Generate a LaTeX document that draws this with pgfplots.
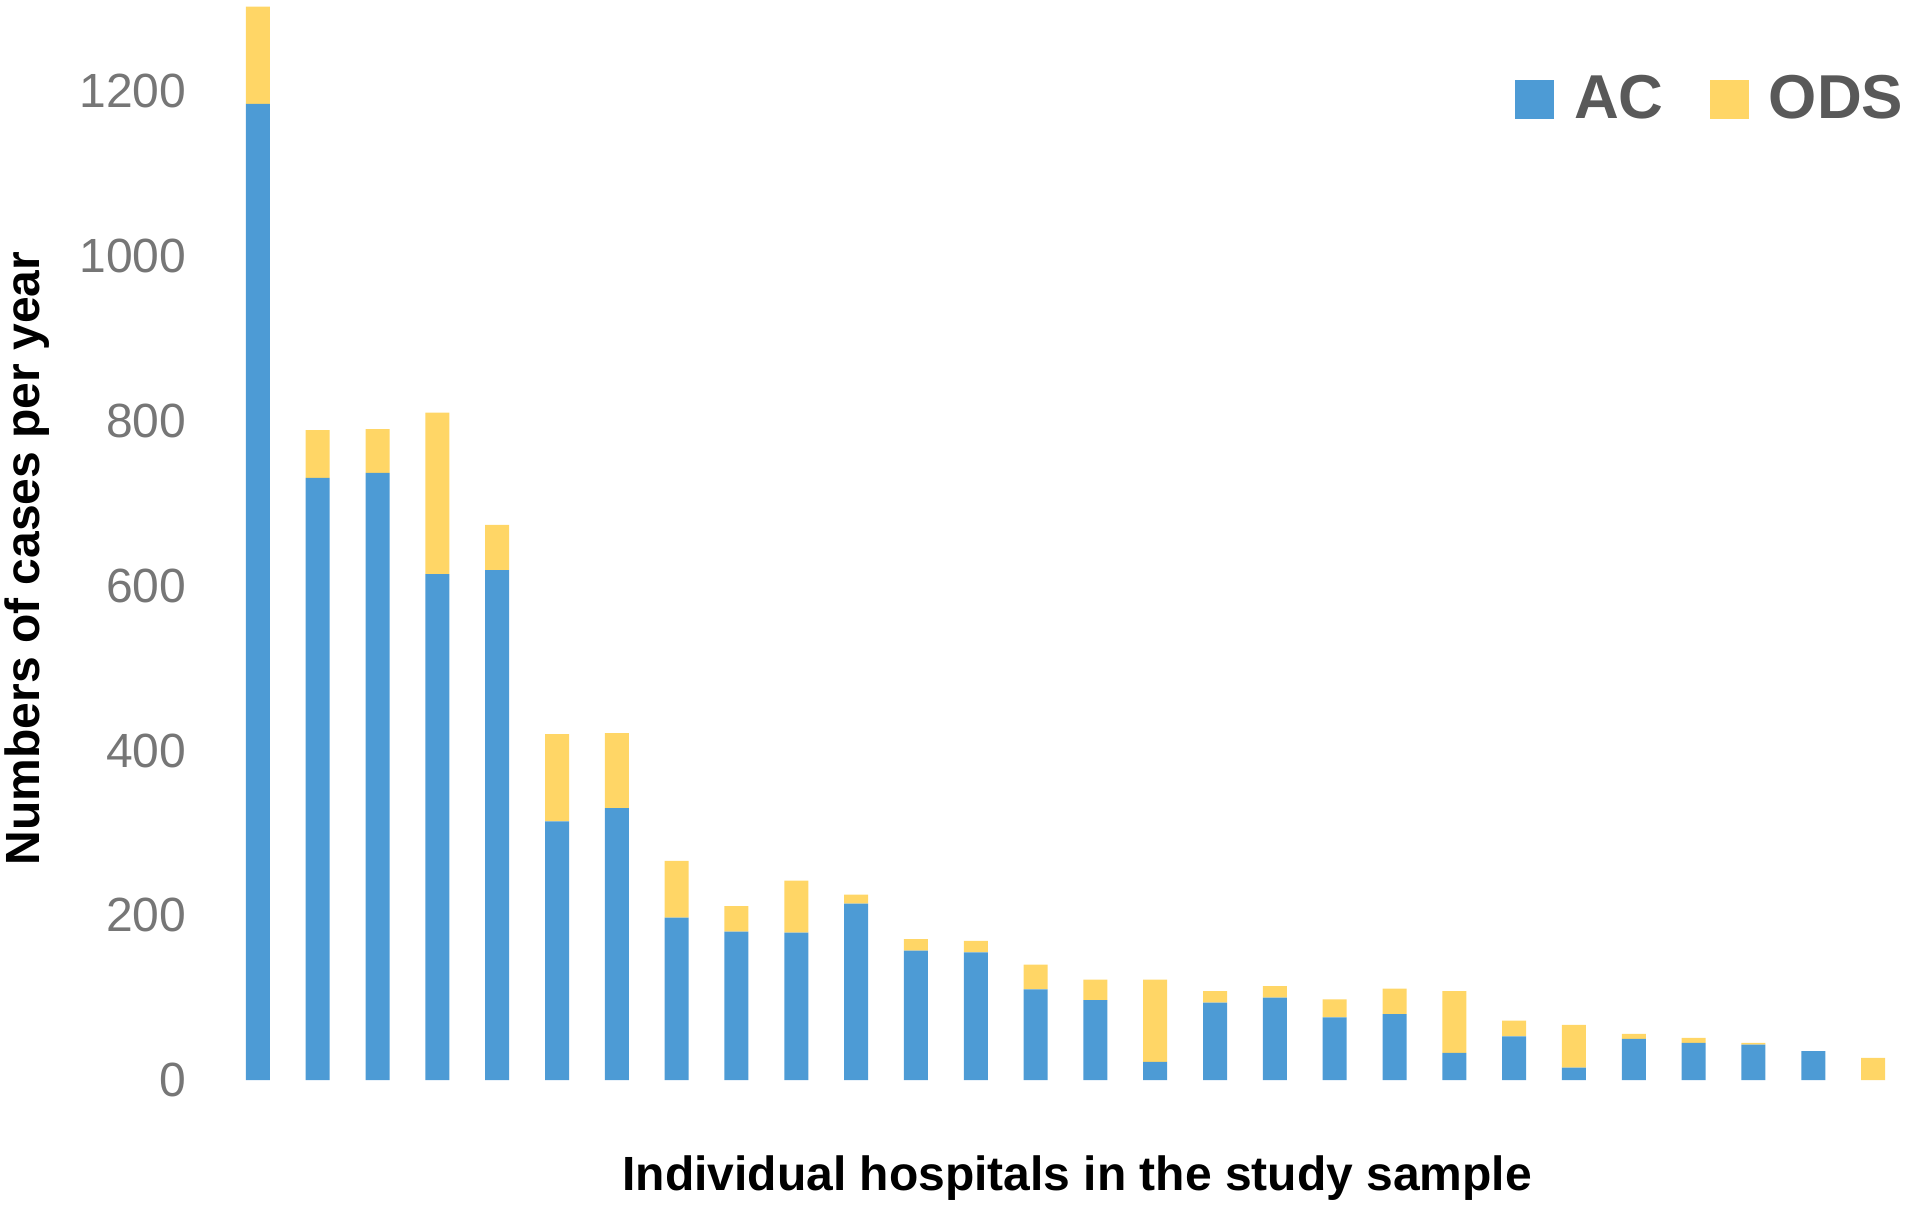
\documentclass[border=0pt]{standalone}
\usepackage{pgfplots}
\usepackage{pgfplotstable}
\pgfplotsset{compat=1.18}
\usepackage{fontspec}
\setmainfont{Liberation Sans}
\definecolor{acblue}{RGB}{77,155,213}
\definecolor{odsyellow}{RGB}{255,214,102}
\definecolor{tickgray}{RGB}{118,118,118}
\definecolor{leggray}{RGB}{89,89,89}
\pgfplotstableread{
x ac ods
1 1185 118
2 731 58
3 737 53
4 614 196
5 619 55
6 314 106
7 330 91
8 197 69
9 180 31
10 179 63
11 214 11
12 157 14
13 155 14
14 110 30
15 97 25
16 22 100
17 94 14
18 100 14
19 76 22
20 80 31
21 33 75
22 53 19
23 15 52
24 50 6
25 45 6
26 43 2
27 35 0
28 0 27
}\datatable
\begin{document}
\begin{tikzpicture}
\begin{axis}[
  name=ax,
  at={(0,0)}, anchor=south west,
  scale only axis,
  width=418.75pt, height=270pt,
  ybar stacked,
  bar width=6pt,
  xmin=0.5, xmax=28.5,
  ymin=0, ymax=1311,
  xtick=\empty,
  ytick={0,200,400,600,800,1000,1200},
  axis line style={draw=none},
  major tick length=0pt,
  tick style={draw=none},
  /pgf/number format/assume math mode=true,
  /pgf/number format/1000 sep={},
  yticklabel style={font=\fontsize{12}{14}\selectfont, text=tickgray, inner sep=0pt, xshift=-10.25pt},
  ylabel={Numbers of cases per year},
  ylabel style={font=\bfseries\fontsize{12}{14}\selectfont, at={(axis description cs:0,0.483)}, anchor=center, yshift=50.25pt},
  xlabel={Individual hospitals in the study sample},
  xlabel style={font=\bfseries\fontsize{12}{14}\selectfont, at={(axis description cs:0.507,0)}, anchor=center, yshift=-24.5pt},
  legend columns=2,
  legend style={draw=none, fill=none, at={(axis description cs:1.0125,0.908)}, anchor=east,
    font=\bfseries\fontsize{15.5}{19}\selectfont, text=leggray,
    /tikz/every odd column/.append style={column sep=3pt},
    /tikz/every even column/.append style={column sep=9.5pt}},
]
\addplot[fill=acblue, draw=none, legend image code/.code={\fill[acblue] (0pt,-4.9pt) rectangle (9.8pt,4.9pt);}] table[x=x, y=ac] {\datatable};
\addlegendentry{AC}
\addplot[fill=odsyellow, draw=none, legend image code/.code={\fill[odsyellow] (0pt,-4.9pt) rectangle (9.8pt,4.9pt);}] table[x=x, y=ods] {\datatable};
\addlegendentry{ODS}
\end{axis}
\pgfresetboundingbox
\path[use as bounding box] (-57pt,-33.5pt) rectangle (423pt,270pt);
\end{tikzpicture}
\end{document}
